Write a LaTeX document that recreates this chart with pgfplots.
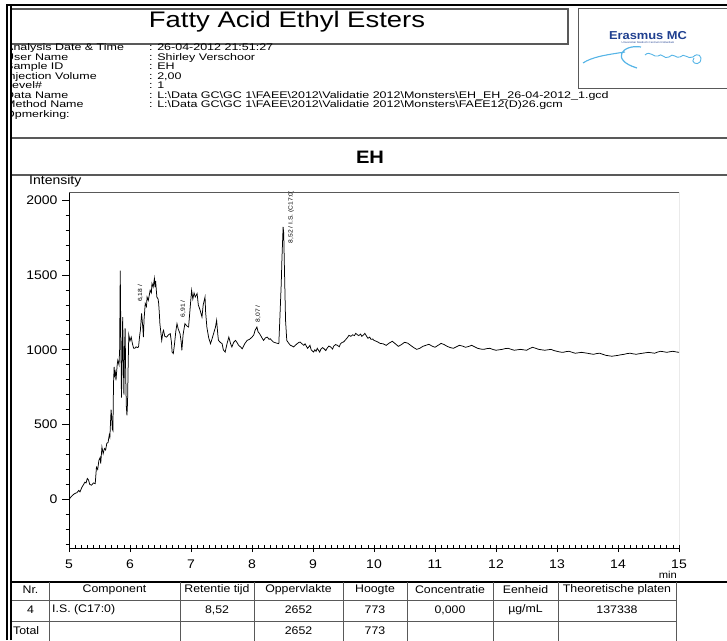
\documentclass[border=0pt]{standalone}
\usepackage{fontspec}
\setmainfont{Liberation Sans}[FakeStretch=1.12]
\newfontfamily\infofont{Liberation Sans}[FakeStretch=1.3]
\newfontfamily\titlefont{Liberation Sans}[FakeStretch=1.22]
\usepackage{pgfplots}
\pgfplotsset{compat=1.18}
\definecolor{emcblue}{HTML}{1F3F8F}
\definecolor{sigblue}{HTML}{55B4E6}
\definecolor{framegray}{gray}{0.35}
\newcommand{\fs}[1]{\fontsize{#1}{#1}\selectfont}
\newcommand{\bs}{\textbackslash}
\begin{document}
\begin{tikzpicture}[x=1pt,y=1pt]
\useasboundingbox (0,0) rectangle (727,640);
% ---------- header ----------
\node[anchor=base,inner sep=0pt,font=\titlefont\fs{22.5}] at (287,612) {Fatty Acid Ethyl Esters};
\draw[framegray,line width=1.2pt] (11,631) rectangle (568,596);
\draw[framegray,line width=1pt] (578,631) rectangle (730,551);
\node[font=\bfseries\fs{11.5},text=emcblue] at (648,604.5) {Erasmus MC};
\node[font=\fs{2.6},text=emcblue] at (648,597) {Universitair Medisch Centrum Rotterdam};
\draw[sigblue,line width=1.1pt] (583,577) .. controls (592,583) and (605,585) .. (625,588);
\draw[sigblue,line width=1.2pt] (641,593) .. controls (622,596) and (610,580) .. (637,572);
\draw[sigblue,line width=0.9pt] (645,585) .. controls (650,590) and (654,582) .. (658,584)
  .. controls (662,588) and (664,580) .. (669,583) .. controls (673,588) and (676,581) .. (680,583)
  .. controls (684,588) and (688,580) .. (693,583) .. controls (698,588) and (703,584) .. (700,578)
  .. controls (697,574) and (690,578) .. (694,582);
% info block
\begin{scope}[every node/.style={anchor=base west,inner sep=0pt,font=\infofont\fs{9.6}}]
\node at (5,589) {Analysis Date \& Time};
\node at (5,579.5) {User Name};
\node at (5,570) {Sample ID};
\node at (5,560.5) {Injection Volume};
\node at (5,551) {Level\#};
\node at (5,541.5) {Data Name};
\node at (5,532) {Method Name};
\node at (5,522.5) {Opmerking:};
\node at (149,589) {: 26-04-2012 21:51:27};
\node at (149,579.5) {: Shirley Verschoor};
\node at (149,570) {: EH};
\node at (149,560.5) {: 2,00};
\node at (149,551) {: 1};
\node at (149,541.5) {: L:\bs{}Data GC\bs{}GC 1\bs{}FAEE\bs{}2012\bs{}Validatie 2012\bs{}Monsters\bs{}EH\_EH\_26-04-2012\_1.gcd};
\node at (149,532) {: L:\bs{}Data GC\bs{}GC 1\bs{}FAEE\bs{}2012\bs{}Validatie 2012\bs{}Monsters\bs{}FAEE12(D)26.gcm};
\end{scope}
% section band
\draw[framegray,line width=1.3pt] (11,502) -- (727,502);
\draw[framegray,line width=1.3pt] (11,465) -- (727,465);
\node[font=\bfseries\fs{18}] at (370,483) {EH};
\node[anchor=west,inner sep=0pt,font=\fs{12.5}] at (29,459) {Intensity};
\node[anchor=east,inner sep=0pt,font=\fs{10}] at (677,65) {min};
% ---------- chromatogram ----------
\begin{axis}[
  at={(69pt,92pt)}, anchor=south west,
  width=610pt, height=356pt, scale only axis,
  xmin=5, xmax=15, ymin=-325, ymax=2055,
  axis x line*=bottom, axis y line*=left,
  axis line style={-,line width=0.8pt,black},
  xtick={5,6,...,15}, ytick={0,500,1000,1500,2000},
  minor x tick num=9,
  minor ytick={-300,-200,-100,100,200,300,400,600,700,800,900,1100,1200,1300,1400,1600,1700,1800,1900},
  tick align=outside,
  major tick length=7pt, minor tick length=3.5pt,
  every tick/.style={black,line width=0.7pt},
  every minor x tick/.append style={yshift=3.5pt},
  every major x tick/.append style={yshift=3pt},
  /pgf/number format/assume math mode=true,
  /pgf/number format/1000 sep={},
  tick label style={font=\fs{12.5}},
  xticklabel style={yshift=-1pt},
  yticklabel style={xshift=-1pt},
]
\draw[framegray,line width=0.8pt] (rel axis cs:0,1) -- (rel axis cs:1,1) -- (rel axis cs:1,0);
\addplot[black,line width=0.75pt] coordinates {
(5.00,0)(5.04,20)(5.08,35)(5.10,40)(5.13,45)(5.16,60)(5.18,50)(5.21,80)(5.24,100)(5.26,115)
(5.28,110)(5.30,140)(5.32,130)(5.34,100)(5.37,95)(5.40,110)(5.43,105)(5.45,215)(5.47,200)(5.49,260)
(5.51,280)(5.52,240)(5.54,350)(5.56,305)(5.58,340)(5.60,330)(5.62,375)(5.64,380)(5.66,430)(5.67,415)
(5.69,600)(5.70,550)(5.71,470)(5.72,460)(5.73,780)(5.74,885)(5.75,830)(5.76,850)(5.77,795)(5.79,900)
(5.80,930)(5.82,900)(5.83,1000)(5.84,1530)(5.85,1100)(5.86,680)(5.87,900)(5.88,1219)(5.89,950)(5.90,700)
(5.91,1000)(5.92,1144)(5.93,820)(5.94,620)(5.95,562)(5.96,650)(5.97,900)(5.98,1100)(6.00,1060)(6.02,1085)
(6.04,1040)(6.06,1010)(6.08,1010)(6.10,1020)(6.12,1015)(6.14,1019)(6.16,1100)(6.17,1130)(6.19,1243)(6.21,1150)
(6.22,1085)(6.23,1200)(6.25,1310)(6.27,1290)(6.28,1353)(6.30,1330)(6.33,1398)(6.35,1380)(6.36,1443)(6.38,1420)
(6.40,1477)(6.41,1420)(6.42,1460)(6.44,1353)(6.46,1340)(6.47,1310)(6.48,1250)(6.49,1175)(6.51,1100)(6.52,1063)
(6.54,1120)(6.55,1130)(6.57,1090)(6.60,1085)(6.63,1100)(6.66,1108)(6.68,1050)(6.69,985)(6.71,975)(6.73,1040)
(6.75,1120)(6.77,1175)(6.79,1140)(6.82,1108)(6.84,1050)(6.85,997)(6.87,1100)(6.90,1175)(6.93,1160)(6.96,1152)
(6.98,1250)(7.01,1398)(7.03,1340)(7.05,1380)(7.07,1353)(7.10,1376)(7.12,1300)(7.15,1264)(7.18,1219)(7.20,1300)
(7.23,1353)(7.24,1250)(7.26,1152)(7.29,1080)(7.32,1041)(7.35,1080)(7.37,1108)(7.40,1150)(7.42,1197)(7.44,1100)
(7.45,1063)(7.48,1050)(7.51,1041)(7.53,1000)(7.56,985)(7.59,1040)(7.62,1085)(7.65,1040)(7.67,1019)(7.70,1050)
(7.73,1063)(7.76,1045)(7.78,1030)(7.81,1020)(7.84,1007)(7.88,1040)(7.92,1063)(7.96,1070)(8.00,1085)(8.03,1100)
(8.05,1130)(8.08,1152)(8.10,1120)(8.12,1110)(8.14,1097)(8.17,1075)(8.19,1063)(8.22,1080)(8.25,1085)(8.28,1070)
(8.30,1074)(8.33,1060)(8.35,1052)(8.40,1045)(8.44,1041)(8.46,1243)(8.48,1450)(8.49,1599)(8.51,1821)(8.52,1780)
(8.53,1578)(8.55,1197)(8.57,1063)(8.60,1045)(8.63,1030)(8.66,1025)(8.68,1019)(8.71,1030)(8.74,1041)(8.77,1050)
(8.79,1052)(8.82,1040)(8.85,1030)(8.87,1040)(8.89,1025)(8.91,1010)(8.93,1019)(8.95,1030)(8.97,1000)(9.01,985)
(9.03,1000)(9.05,990)(9.07,1010)(9.09,997)(9.11,985)(9.13,1005)(9.16,1015)(9.18,1007)(9.21,995)(9.23,1010)
(9.26,1025)(9.29,1019)(9.32,1005)(9.34,1025)(9.37,1035)(9.40,1030)(9.43,1020)(9.45,1040)(9.48,1050)(9.50,1052)
(9.53,1065)(9.55,1075)(9.57,1085)(9.59,1097)(9.62,1090)(9.65,1100)(9.68,1095)(9.70,1110)(9.73,1100)(9.75,1095)
(9.78,1105)(9.80,1090)(9.83,1100)(9.85,1110)(9.88,1090)(9.90,1077)(9.93,1085)(9.95,1070)(9.98,1072)(10.00,1063)
(10.05,1055)(10.10,1043)(10.15,1040)
(10.20,1030)(10.25,1045)(10.30,1057)(10.35,1040)(10.40,1023)(10.45,1035)(10.50,1050)(10.55,1045)(10.60,1030)(10.65,1015)
(10.70,1003)(10.75,1010)(10.80,1023)(10.85,1030)(10.90,1037)(10.95,1025)(11.00,1017)(11.05,1030)(11.10,1043)(11.15,1035)
(11.20,1023)(11.25,1015)(11.30,1010)(11.35,1020)(11.40,1030)(11.45,1025)(11.50,1017)(11.55,1022)(11.60,1030)(11.65,1020)
(11.70,1010)(11.75,1005)(11.80,1003)(11.85,1008)(11.90,1010)(11.95,1002)(12.00,997)(12.05,1000)(12.10,1003)(12.15,1008)
(12.20,1010)(12.25,1003)(12.30,997)(12.35,1000)(12.40,1003)(12.45,1000)(12.50,997)(12.55,1008)(12.60,1017)(12.65,1010)
(12.70,1003)(12.75,1000)(12.80,997)(12.85,1000)(12.90,1003)(12.95,995)(13.00,990)(13.05,985)(13.10,983)(13.15,988)
(13.20,990)(13.25,983)(13.30,977)(13.35,980)(13.40,983)(13.45,980)(13.50,977)(13.55,973)(13.60,970)(13.65,975)
(13.70,977)(13.75,970)(13.80,963)(13.85,960)(13.90,957)(13.95,960)(14.00,963)(14.05,967)(14.10,970)(14.15,975)
(14.20,977)(14.25,973)(14.30,970)(14.35,974)(14.40,977)(14.45,980)(14.50,983)(14.55,980)(14.60,977)(14.65,985)
(14.70,990)(14.75,987)(14.80,983)(14.85,987)(14.90,990)(14.95,986)(15.00,983)
};
\node[rotate=90,anchor=west,inner sep=0pt,font=\fs{6}] at (axis cs:6.17,1320) {6,18 /};
\node[rotate=90,anchor=west,inner sep=0pt,font=\fs{6}] at (axis cs:6.87,1217) {6,91 /};
\node[rotate=90,anchor=west,inner sep=0pt,font=\fs{6}] at (axis cs:8.10,1184) {8,07 /};
\node[rotate=90,anchor=west,inner sep=0pt,font=\fs{6}] at (axis cs:8.64,1712) {8,52 / I.S. (C17:0)};
\end{axis}
% ---------- table ----------
\draw[black,line width=1.5pt] (11,58) -- (727,58);
\draw[framegray,line width=1pt] (11,40) -- (676,40);
\draw[framegray,line width=1pt] (11,19) -- (676,19);
\foreach \xx in {49,180,254,343,407,493,558,676} {\draw[framegray,line width=1pt] (\xx,58) -- (\xx,-2);}
\begin{scope}[every node/.style={inner sep=0pt,font=\fs{11}}]
\node at (30.5,50) {Nr.};
\node at (114.5,50) {Component};
\node at (217,50) {Retentie tijd};
\node at (298.5,50) {Oppervlakte};
\node at (375,50) {Hoogte};
\node at (450,50) {Concentratie};
\node at (525.5,50) {Eenheid};
\node at (617,50) {Theoretische platen};
\node at (30.5,30) {4};
\node[anchor=west] at (52,30) {I.S. (C17:0)};
\node at (217,30) {8,52};
\node at (298.5,30) {2652};
\node at (375,30) {773};
\node at (450,30) {0,000};
\node at (525.5,30) {µg/mL};
\node at (617,30) {137338};
\node[anchor=west] at (13,9) {Total};
\node at (298.5,9) {2652};
\node at (375,9) {773};
\end{scope}
% ---------- outer border ----------
\fill[white] (0,0) rectangle (12,640);
\draw[black,line width=2pt] (6,635) -- (727,635);
\draw[black,line width=1.8pt] (7,0) -- (7,636);
\draw[black,line width=1.8pt] (11,0) -- (11,636);
\end{tikzpicture}
\end{document}
